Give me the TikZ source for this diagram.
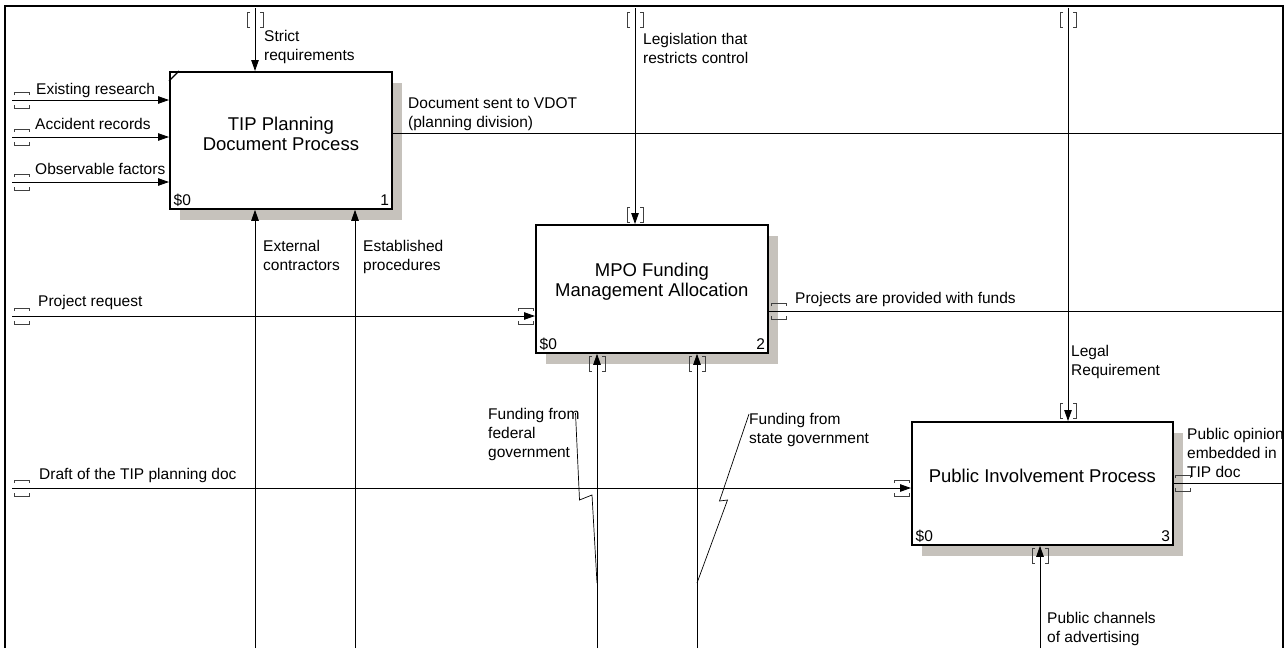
\documentclass[tikz,border=0pt]{standalone}
\usepackage{fontspec}
\setmainfont{Liberation Sans}
\usetikzlibrary{arrows.meta,shadows}

\definecolor{shadowgray}{RGB}{198,194,188}
\tikzset{
  procbox/.style={draw, line width=1.8pt, fill=white, anchor=north west, inner sep=0pt,
    drop shadow={shadow xshift=10pt, shadow yshift=-11pt, fill=shadowgray, opacity=1}},
  boxtitle/.style={font=\fontsize{18.5}{20.5}\selectfont, align=center, inner sep=0pt},
  boxtag/.style={font=\fontsize{15.5}{18}\selectfont, inner sep=0pt},
  lbl/.style={font=\fontsize{15.5}{19}\selectfont, align=left, anchor=north west, inner sep=0pt},
  flow/.style={line width=0.9pt, -{Triangle[length=11pt,width=7.5pt]}},
  plain/.style={line width=0.9pt},
  leader/.style={line width=0.7pt},
  frameline/.style={line width=2.6pt},
  tunnel/.pic={
    \draw[line width=0.9pt, black!75] (-5,-7.5) -- (-8,-7.5) -- (-8,7.5) -- (-5,7.5)
      (5,-7.5) -- (8,-7.5) -- (8,7.5) -- (5,7.5);
  }
}

\begin{document}
\begin{tikzpicture}[x=1pt,y=-1pt]
\useasboundingbox (0,0) rectangle (1287,648);

\begin{scope}
\clip (6,7) rectangle (1281.6,648);

\node[procbox, minimum width=222pt, minimum height=137pt] (tip) at (169,71) {};
\node[procbox, minimum width=232pt, minimum height=128pt] (mpo) at (535,224) {};
\node[procbox, minimum width=261pt, minimum height=123pt] (pip) at (911,421) {};
\draw[line width=1.2pt] ([yshift=-10pt]tip.north west) -- ([xshift=10pt]tip.north west);

\node[boxtitle] (tipTitle) at ([yshift=6.5pt]tip.center) {TIP Planning\\Document Process};
\node[boxtitle] (mpoTitle) at ([yshift=7pt]mpo.center) {MPO Funding\\Management Allocation};
\node[boxtitle] (pipTitle) at ([yshift=8pt]pip.center) {Public Involvement Process};

\node[boxtag, anchor=base west] (tipCost) at ([shift={(4.5,-4)}]tip.south west) {\$0};
\node[boxtag, anchor=base east] (tipNum) at ([shift={(-3.5,-4)}]tip.south east) {1};
\node[boxtag, anchor=base west] (mpoCost) at ([shift={(4.5,-4)}]mpo.south west) {\$0};
\node[boxtag, anchor=base east] (mpoNum) at ([shift={(-3.5,-4)}]mpo.south east) {2};
\node[boxtag, anchor=base west] (pipCost) at ([shift={(4.5,-4)}]pip.south west) {\$0};
\node[boxtag, anchor=base east] (pipNum) at ([shift={(-3.5,-4)}]pip.south east) {3};

\coordinate (strictIn) at (255,8);
\coordinate (extIn) at (255,648);
\coordinate (estIn) at (355,648);
\coordinate (resIn) at (12,100);
\coordinate (accIn) at (12,137);
\coordinate (obsIn) at (12,182);
\coordinate (docOut) at (1283,133);
\coordinate (legisIn) at (635,8);
\coordinate (projIn) at (12,316);
\coordinate (fundsOut) at (1283,311);
\coordinate (fedIn) at (597,648);
\coordinate (stateIn) at (697,648);
\coordinate (legalIn) at (1068,8);
\coordinate (draftIn) at (12,488);
\coordinate (opinionOut) at (1283,483);
\coordinate (channelsIn) at (1040,648);

\draw[flow] (strictIn) -- (strictIn |- tip.north);
\draw[flow] (extIn) -- (extIn |- tip.south);
\draw[flow] (estIn) -- (estIn |- tip.south);
\draw[flow] (resIn) -- (resIn -| tip.west);
\draw[flow] (accIn) -- (accIn -| tip.west);
\draw[flow] (obsIn) -- (obsIn -| tip.west);
\draw[plain] (tip.east |- docOut) -- (docOut);

\draw[flow] (legisIn) -- (legisIn |- mpo.north);
\draw[flow] (projIn) -- (projIn -| mpo.west);
\draw[flow] (fedIn) -- (fedIn |- mpo.south);
\draw[flow] (stateIn) -- (stateIn |- mpo.south);
\draw[plain] (mpo.east |- fundsOut) -- (fundsOut);

\draw[flow] (legalIn) -- (legalIn |- pip.north);
\draw[flow] (draftIn) -- (draftIn -| pip.west);
\draw[flow] (channelsIn) -- (channelsIn |- pip.south);
\draw[plain] (pip.east |- opinionOut) -- (opinionOut);

\foreach \y in {100,137,182,316,488}
  \pic[rotate=90] at (22,\y) {tunnel};
\pic[rotate=90] at (525.5,316) {tunnel};
\pic[rotate=90] at (902,488) {tunnel};
\pic[rotate=90] at (779,311) {tunnel};
\pic[rotate=90] at (1183,483) {tunnel};
\foreach \x in {255,635,1068}
  \pic at (\x,19.5) {tunnel};
\pic at (635,214.5) {tunnel};
\pic at (1068,411) {tunnel};
\pic at (597,363.5) {tunnel};
\pic at (697,363.5) {tunnel};
\pic at (1040,555.5) {tunnel};

\node[lbl] (strictLbl) at (264,30) {Strict\\requirements};
\node[lbl] (resLbl) at (36,83) {Existing research};
\node[lbl] (accLbl) at (35,118) {Accident records};
\node[lbl] (obsLbl) at (35,163) {Observable factors};
\node[lbl] (docLbl) at (408,97) {Document sent to VDOT\\(planning division)};
\node[lbl] (extLbl) at (263,240) {External\\contractors};
\node[lbl] (estLbl) at (363,240) {Established\\procedures};
\node[lbl] (legisLbl) at (643,33) {Legislation that\\restricts control};
\node[lbl] (projLbl) at (38,295) {Project request};
\node[lbl] (fundsLbl) at (795,292) {Projects are provided with funds};
\node[lbl] (fedLbl) at (488,408) {Funding from\\federal\\government};
\node[lbl] (stateLbl) at (749,413) {Funding from\\state government};
\node[lbl] (legalLbl) at (1071,345) {Legal\\Requirement};
\node[lbl] (draftLbl) at (39,468) {Draft of the TIP planning doc};
\node[lbl] (opinionLbl) at (1187,428) {Public opinion\\embedded in\\TIP doc};
\node[lbl] (channelsLbl) at (1047,612) {Public channels\\of advertising};

\coordinate (fedTip) at (597,583);
\coordinate (stateTip) at (697,583);
\draw[leader] (575.5,413) -- (579.5,500) -- (592,495) -- (fedTip);
\draw[leader] (749,414) -- (719.5,501) -- (727.5,500) -- (stateTip);
\end{scope}

\draw[frameline] (5,648) -- (5,6) -- (1283,6) -- (1283,648);
\end{tikzpicture}
\end{document}
